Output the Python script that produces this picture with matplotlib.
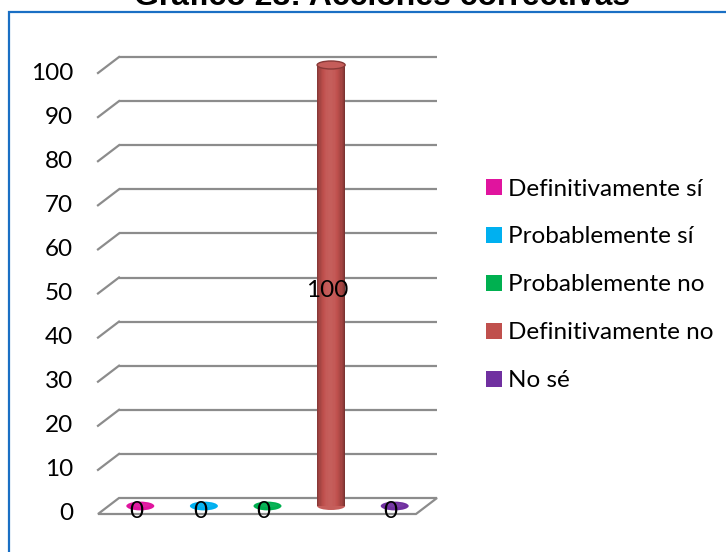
import numpy as np
import matplotlib
matplotlib.use("Agg")
import matplotlib.pyplot as plt
from matplotlib.patches import Ellipse, Polygon, Rectangle, Patch
from matplotlib.colors import to_rgb

# ---------------- data ----------------
title = "Gráfico 28: Acciones correctivas"
categories = ["Definitivamente sí", "Probablemente sí", "Probablemente no",
              "Definitivamente no", "No sé"]
values = [0, 0, 0, 100, 0]
colors = ["#E0149E", "#00B0F0", "#00B050", "#C0504D", "#7030A0"]
yticks = [0, 10, 20, 30, 40, 50, 60, 70, 80, 90, 100]

# ---------------- style ----------------
FONT = "Lato"
FS = 17.5
GRID = "#8C8C8C"
W, H, DPI = 726, 552, 100

fig = plt.figure(figsize=(W / DPI, H / DPI), dpi=DPI)
fig.patch.set_facecolor("white")

# plot area = back wall of the 3D box (pixel layout)
left_px, right_px, back0_px, top_px = 119, 437, 498, 57
ax = fig.add_axes([left_px / W, (H - back0_px) / H,
                   (right_px - left_px) / W, (back0_px - top_px) / H])
ax.set_xlim(-0.5, len(categories) - 0.5)
ax.set_ylim(0, 100)
ax.axis("off")

px_per_cat = (right_px - left_px) / len(categories)
px_per_val = (back0_px - top_px) / 100.0
DX = -21 / px_per_cat          # depth shift (front) in data units
DY = -16 / px_per_val
x0, x1 = -0.5, len(categories) - 0.5

# floor
floor = Polygon([[x0, 0], [x1, 0], [x1 + DX, DY], [x0 + DX, DY]], closed=True,
                facecolor="white", edgecolor=GRID, lw=1.6, zorder=1, clip_on=False)
ax.add_patch(floor)
# gridlines on back wall + left side
for v in yticks:
    if v > 0:
        ax.plot([x0, x1], [v, v], color=GRID, lw=1.6, zorder=1, clip_on=False,
                solid_capstyle="butt")
        ax.plot([x0 + DX, x0], [v + DY, v], color=GRID, lw=1.6, zorder=1,
                clip_on=False)
    ax.text(x0 + DX - 25 / px_per_cat, v + DY, str(v), ha="right", va="center",
            fontsize=FS, family=FONT, color="black")

# cylinders
cyl_w = 28 / px_per_cat
ell_h = 8 / px_per_val
N = 24
def shade(c, t):
    r, g, b = to_rgb(c)
    f = 0.62 + 0.5 * np.sin(np.pi * t) ** 0.6 - 0.08 * t
    f = min(f, 1.12)
    if f <= 1:
        return (r * f, g * f, b * f)
    k = f - 1
    return (r + (1 - r) * k, g + (1 - g) * k, b + (1 - b) * k)

for i, (v, c) in enumerate(zip(values, colors)):
    cx = i + DX / 2
    base = DY / 2
    if v > 0:
        ax.add_patch(Ellipse((cx, base), cyl_w, ell_h, facecolor=shade(c, 0.5),
                             edgecolor="none", zorder=3, clip_on=False))
        lefts = cx - cyl_w / 2 + np.arange(N) * cyl_w / N
        ts = (np.arange(N) + 0.5) / N
        ax.bar(lefts, v, bottom=base, width=cyl_w / N * 1.02, align="edge",
               color=[shade(c, t) for t in ts], linewidth=0, zorder=4,
               clip_on=False)
        ax.add_patch(Ellipse((cx, base + v), cyl_w, ell_h,
                             facecolor=shade(c, 0.55), edgecolor=shade(c, 0.02),
                             lw=1.0, zorder=5, clip_on=False))
    else:
        ax.add_patch(Ellipse((cx, base), cyl_w, ell_h * 1.1, facecolor=c,
                             edgecolor="none", zorder=3, clip_on=False))
        ax.add_patch(Ellipse((cx + cyl_w * 0.05, base + ell_h * 0.1), cyl_w * 0.6,
                             ell_h * 0.5, facecolor=shade(c, 0.45),
                             edgecolor="none", alpha=0.6, zorder=3, clip_on=False))
    ax.text(cx - 4 / px_per_cat, v / 2 + base - 5 / px_per_val, str(v),
            ha="center", va="center", fontsize=FS, family=FONT, color="black",
            zorder=6)

# legend
handles = [Patch(facecolor=c, edgecolor="none") for c in colors]
fig.legend(handles, categories, loc="upper left",
           bbox_to_anchor=(486 / W, 1 - 178.5 / H), frameon=False,
           prop={"family": FONT, "size": FS}, handlelength=0.66,
           handleheight=0.66, handletextpad=0.25, labelspacing=1.11,
           borderpad=0, borderaxespad=0)

# outer frame (clipped on right and bottom)
fig.add_artist(Rectangle((9 / W, -0.05), 1.2, 1 - 12 / H + 0.05,
                         transform=fig.transFigure, fill=False,
                         edgecolor="#1A6FC4", lw=1.6))

# title (clipped at top)
fig.text(382 / W, 1 - 5 / H, title, ha="center", va="baseline", fontsize=23,
         fontweight="bold", family="Liberation Sans", color="black")

fig.savefig("out.png", dpi=DPI)
